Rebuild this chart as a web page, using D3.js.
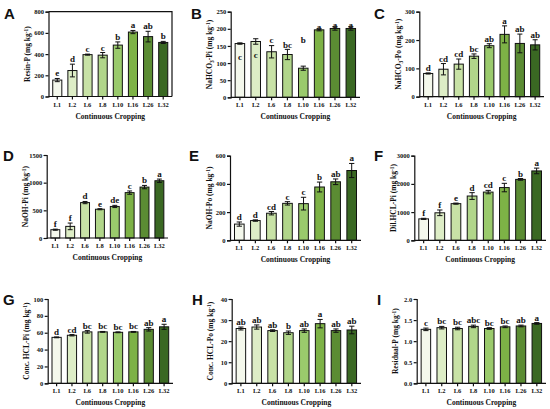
<!DOCTYPE html>
<html><head><meta charset="utf-8">
<script src="https://cdn.jsdelivr.net/npm/d3@7/dist/d3.min.js"></script>
<style>
html,body{margin:0;padding:0;background:#fff;}
svg{display:block;}
text{font-family:"Liberation Serif","Times New Roman",serif;font-weight:bold;}
.plabel{font-family:"Liberation Sans",Arial,sans-serif;font-weight:bold;}
</style></head><body>
<svg id="c" width="550" height="409"></svg>
<script>
const categories = ["L1","L2","L6","L8","L10","L16","L26","L32"];
const barColors = ["#f4f8ec","#ddedc6","#c8e2a6","#b1d68a","#9aca6c","#7db246","#5b8c33","#3a6823"];

// Panel A: Resin-P
const resinP = [155,245,395,390,485,608,565,510];
const resinPErr = [15,60,5,25,30,15,50,10];
const resinPSig = ["e","d","c","c","b","a","ab","b"];
// Panel B: NaHCO3-Pi
const nahco3Pi = [157,163,133,125,85,197,201,201];
const nahco3PiErr = [2,8,18,15,6,3,5,5];
const nahco3PiSig = ["c","c","c","bc","b","a","a","a"];
const nahco3PiSigAt = [109,116,158,143,160,198,201,201];
// Panel C: NaHCO3-Po
const nahco3Po = [82,97,115,143,180,220,188,183];
const nahco3PoErr = [2,20,18,8,7,30,33,18];
const nahco3PoSig = ["d","cd","cd","bc","ab","a","ab","ab"];
// Panel D: NaOH-Pi
const naohPi = [150,210,640,520,570,820,920,1035];
const naohPiErr = [10,60,20,10,20,30,30,30];
const naohPiSig = ["f","f","d","e","de","c","b","a"];
// Panel E: NaOH-Po
const naohPo = [115,140,192,262,260,378,415,495];
const naohPoErr = [15,5,12,12,45,35,20,50];
const naohPoSig = ["d","d","cd","c","c","b","ab","a"];
// Panel F: Dil.HCL-Pi
const dilHclPi = [760,975,1300,1570,1710,1870,2160,2460];
const dilHclPiErr = [20,100,20,120,60,150,30,100];
const dilHclPiSig = ["f","f","e","d","cd","c","b","a"];
// Panel G: Conc. HCL-Pi
const concHclPi = [54.5,57,61,61,60.5,61,64,67];
const concHclPiErr = [0.5,0.8,1.5,0.5,0.5,0.5,2,3];
const concHclPiSig = ["d","cd","bc","bc","bc","bc","ab","a"];
// Panel H: Conc. HCL-Po
const concHclPo = [26,26.7,25,24,25,28.3,25,25.3];
const concHclPoErr = [0.7,1,0.4,0.8,0.8,2,0.8,1.8];
const concHclPoSig = ["ab","ab","ab","b","ab","a","ab","ab"];
// Panel I: Residual-P
const residualP = [1.28,1.32,1.30,1.35,1.30,1.34,1.36,1.42];
const residualPErr = [0.03,0.03,0.03,0.03,0.02,0.02,0.02,0.02];
const residualPSig = ["c","bc","bc","abc","bc","bc","ab","a"];

const yMaxes = [800,250,300,1500,600,3000,100,40,2.0];
const yTickSteps = [200,50,100,500,200,1000,20,10,0.5];
const yLabelMain = ["Resin-P","NaHCO","NaHCO","NaOH-Pi","NaOH-Po","Dil.HCL-Pi","Conc. HCL-Pi","Conc. HCL-Po","Residual-P"];
const yLabelSub = ["","3","3","","","","","",""];
const yLabelTail = ["","-Pi","-Po","","","","","",""];
const panelLetters = ["A","B","C","D","E","F","G","H","I"];
const xTitle = "Continuous Cropping";

const panels = [
  {v:resinP,e:resinPErr,s:resinPSig},
  {v:nahco3Pi,e:nahco3PiErr,s:nahco3PiSig,at:nahco3PiSigAt},
  {v:nahco3Po,e:nahco3PoErr,s:nahco3PoSig},
  {v:naohPi,e:naohPiErr,s:naohPiSig},
  {v:naohPo,e:naohPoErr,s:naohPoSig},
  {v:dilHclPi,e:dilHclPiErr,s:dilHclPiSig},
  {v:concHclPi,e:concHclPiErr,s:concHclPiSig},
  {v:concHclPo,e:concHclPoErr,s:concHclPoSig},
  {v:residualP,e:residualPErr,s:residualPSig}
];

// layout (pixel geometry of each plot area)
const layout = [
  {l:48.5,r:172,t:11.7,b:96.5,box:true, lx:4, ly:19},
  {l:230.7,r:360,t:11.7,b:97.3, lx:191, ly:19},
  {l:419.3,r:544,t:11.7,b:96.7, lx:374, ly:19},
  {l:46.7,r:168,t:155,b:238, lx:3, ly:161},
  {l:230,r:361,t:155.7,b:240.3, lx:189, ly:161},
  {l:414.3,r:546,t:155.7,b:240.3, lx:374, ly:161},
  {l:47.7,r:173,t:299,b:383.3, lx:3, ly:305},
  {l:231.7,r:361,t:299,b:383.3, lx:192, ly:305},
  {l:416.7,r:546,t:299,b:383.3, lx:377, ly:305}
];

const svg = d3.select("#c");

panels.forEach((p,i)=>{
  const L = layout[i];
  const g = svg.append("g");
  const x = d3.scaleBand().domain(categories).range([L.l, L.r]).paddingInner(0.4).paddingOuter(0.28);
  const y = d3.scaleLinear().domain([0, yMaxes[i]]).range([L.b, L.t]);
  const ticks = d3.range(0, yMaxes[i] + yTickSteps[i]/2, yTickSteps[i]);
  const fmt = yMaxes[i] < 10 ? d3.format(".1f") : d3.format("d");

  // bars
  g.selectAll("rect.bar").data(p.v).join("rect")
    .attr("x",(d,j)=>x(categories[j]))
    .attr("y",d=>y(d))
    .attr("width",x.bandwidth())
    .attr("height",d=>L.b - y(d))
    .attr("fill",(d,j)=>barColors[j])
    .attr("stroke","#111").attr("stroke-width",1);

  // error bars
  const cw = x.bandwidth()*0.55;
  p.v.forEach((d,j)=>{
    const cx = x(categories[j]) + x.bandwidth()/2;
    const y1 = y(d + p.e[j]), y0 = y(d - p.e[j]);
    g.append("line").attr("x1",cx).attr("x2",cx).attr("y1",y1).attr("y2",y0).attr("stroke","#111").attr("stroke-width",1);
    g.append("line").attr("x1",cx-cw/2).attr("x2",cx+cw/2).attr("y1",y1).attr("y2",y1).attr("stroke","#111").attr("stroke-width",1);
    g.append("line").attr("x1",cx-cw/2).attr("x2",cx+cw/2).attr("y1",y0).attr("y2",y0).attr("stroke","#111").attr("stroke-width",1);
    const ly = p.at ? y(p.at[j]) : y(d + p.e[j]) - 2;
    g.append("text").attr("x",cx).attr("y",ly).attr("text-anchor","middle")
      .attr("font-size",9).attr("fill","#111").text(p.s[j]);
  });

  // y axis
  const ya = d3.axisLeft(y).tickValues(ticks).tickFormat(fmt).tickSizeOuter(0).tickSize(3).tickPadding(1.5);
  const yg = g.append("g").attr("transform",`translate(${L.l},0)`).call(ya);
  yg.selectAll("text").attr("font-size",6.5).attr("fill","#111")
    .style("font-family",'"Liberation Serif","Times New Roman",serif').style("font-weight","bold");
  yg.selectAll("line,path").attr("stroke","#111").attr("stroke-width",1.2);

  // x axis
  const xa = d3.axisBottom(x).tickSizeOuter(0).tickSize(3).tickPadding(2.5);
  const xg = g.append("g").attr("transform",`translate(0,${L.b})`).call(xa);
  xg.select("path.domain").attr("d",`M${L.l},0H${L.r}`);
  xg.selectAll("text").attr("font-size",6.5).attr("fill","#111")
    .style("font-family",'"Liberation Serif","Times New Roman",serif').style("font-weight","bold");
  xg.selectAll("line,path").attr("stroke","#111").attr("stroke-width",1.2);

  if (L.box){
    g.append("path").attr("d",`M${L.l},${L.t}H${L.r}V${L.b}`).attr("fill","none").attr("stroke","#111").attr("stroke-width",1.2);
  }

  // x title
  g.append("text").attr("x",(L.l+L.r)/2).attr("y",L.b+22).attr("text-anchor","middle")
    .attr("font-size",7.5).attr("fill","#111").text(xTitle);

  // y title
  const yt = g.append("text")
    .attr("transform",`translate(${L.l-21},${(L.t+L.b)/2}) rotate(-90)`)
    .attr("text-anchor","middle").attr("dy","0.35em")
    .attr("font-size",7.5).attr("fill","#111");
  yt.append("tspan").text(yLabelMain[i]);
  if (yLabelSub[i]){
    yt.append("tspan").attr("font-size",5.5).attr("baseline-shift","-25%").text(yLabelSub[i]);
    yt.append("tspan").text(yLabelTail[i]);
  }
  yt.append("tspan").text(" (mg kg");
  yt.append("tspan").attr("font-size",5.5).attr("baseline-shift","40%").text("-1");
  yt.append("tspan").text(")");

  // panel letter
  svg.append("text").attr("class","plabel").attr("x",L.lx).attr("y",L.ly)
    .attr("font-size",15).attr("fill","#111").text(panelLetters[i]);
});
</script>
</body></html>
